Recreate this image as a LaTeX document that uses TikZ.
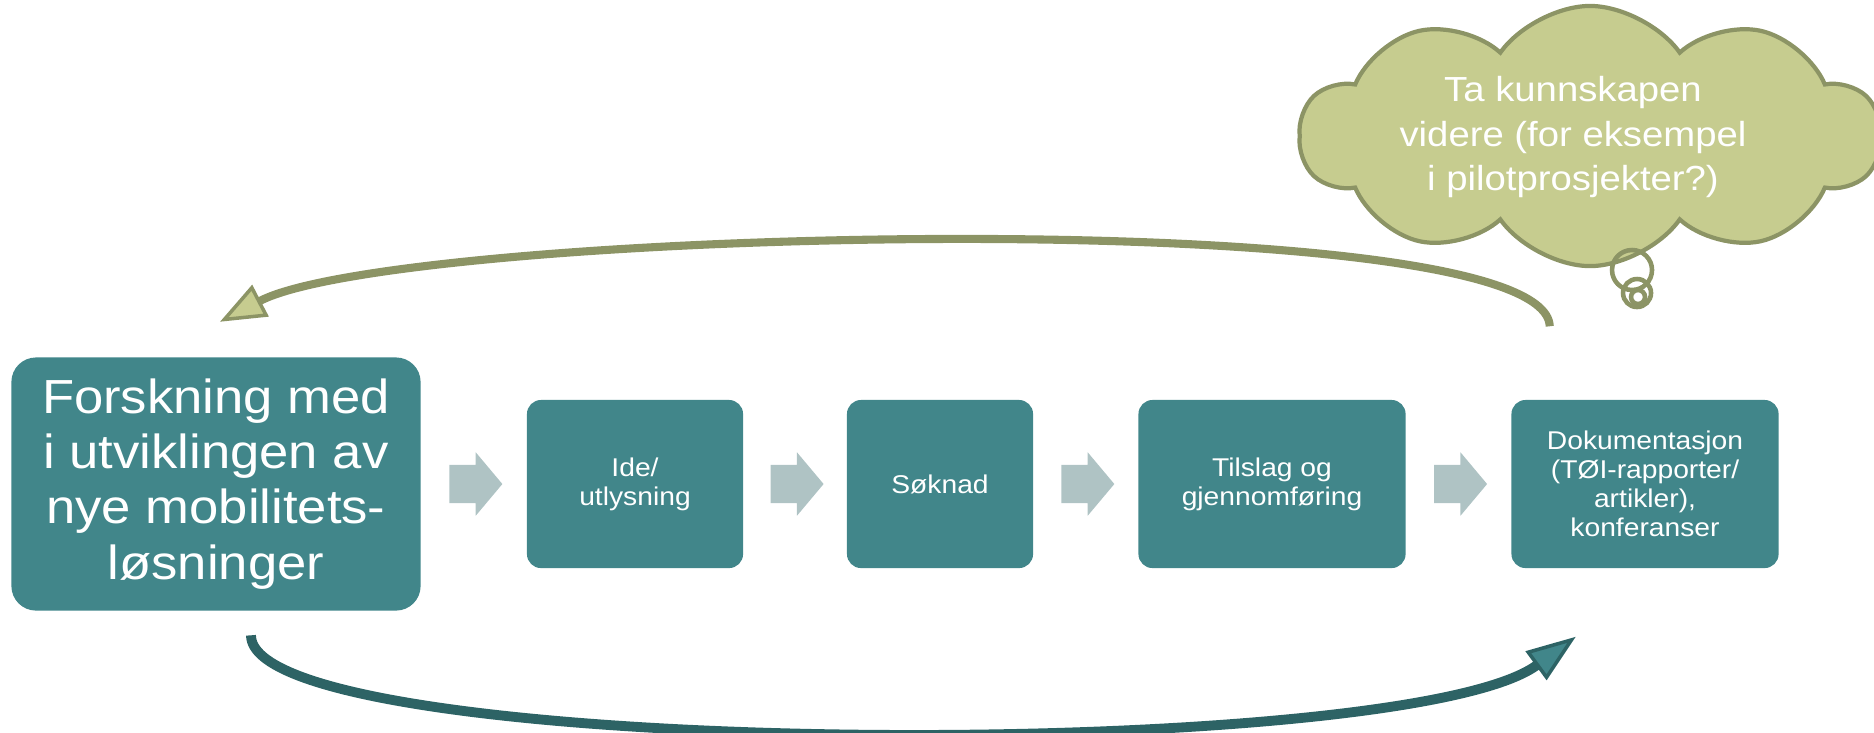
\documentclass[tikz,border=0pt]{standalone}
\usepackage{fontspec}
\setmainfont[FakeStretch=1.1]{Liberation Sans}
\usetikzlibrary{positioning,calc,shapes.symbols,shapes.arrows,arrows.meta}
\definecolor{boxteal}{HTML}{41868A}
\definecolor{chevgray}{HTML}{AFC3C4}
\definecolor{loopteal}{HTML}{2D6365}
\definecolor{cloudfill}{HTML}{C6CC8F}
\definecolor{cloudline}{HTML}{8C9465}

\begin{document}
\begin{tikzpicture}[x=0.01cm,y=-0.01cm,
  stage/.style={fill=boxteal,text=white,rounded corners=4pt,minimum height=1.68cm,
    align=center,inner sep=0pt,font=\fontsize{7.3}{8.3}\selectfont},
  chev/.style={single arrow,fill=chevgray,minimum height=0.53cm,inner xsep=0pt,
    inner ysep=0.185cm,single arrow head extend=0.125cm,single arrow tip angle=100,
    xshift=-0.06cm}]
\clip (0,0) rectangle (1874,732);
% the steps
\node[stage,minimum width=4.09cm,minimum height=2.53cm,rounded corners=7pt,
  font=\fontsize{13.6}{15.7}\selectfont] (main) at (216,484)
  {Forskning med\\i utviklingen av\\nye mobilitets-\\løsninger};
\node[stage,minimum width=2.16cm] (ide) at (635,484) {Ide/\\utlysning};
\node[stage,minimum width=1.86cm] (soknad) at (940,484) {Søknad};
\node[stage,minimum width=2.67cm] (tilslag) at (1272,484) {Tilslag og\\gjennomføring};
\node[stage,minimum width=2.67cm] (doc) at (1645,484)
  {Dokumentasjon\\(TØI-rapporter/\\artikler),\\konferanser};
% arrows between the steps
\node[chev] (c1) at ($(main.east)!0.5!(ide.west)$) {};
\node[chev] (c2) at ($(ide.east)!0.5!(soknad.west)$) {};
\node[chev] (c3) at ($(soknad.east)!0.5!(tilslag.west)$) {};
\node[chev] (c4) at ($(tilslag.east)!0.5!(doc.west)$) {};
% the two loops
\coordinate (backR) at ($(doc.north west)+(39,-73)$);
\coordinate (backL) at ($(main.north)+(4,-35)$);
\coordinate (fwdL) at ($(main.south)+(35,24)$);
\coordinate (fwdR) at ($(doc.south west)+(65,68)$);
\draw[cloudline,line width=2.3pt,
  -{Triangle[length=13pt,width=10pt,fill=cloudfill,line width=1pt]}]
  (backR) .. controls (1545,200) and (400,228) .. (backL);
\draw[loopteal,line width=2.8pt,
  -{Triangle[length=14pt,width=10pt,fill=boxteal,line width=1pt]}]
  (fwdL) .. controls (251,760) and (1400,765) .. (fwdR);
% thought cloud
\node[cloud,cloud puffs=10,cloud puff arc=110,aspect=2.3,draw=cloudline,fill=cloudfill,
  line width=1.2pt,minimum width=5.8cm,minimum height=2.6cm] (idea) at (1590,136) {};
\draw[cloudline,line width=1.3pt] (1632,270) circle[radius=20];
\draw[cloudline,line width=1.3pt] (1637,293) circle[radius=14];
\draw[cloudline,line width=1.3pt] (1638,297) circle[radius=7];
\node[text=white,align=center,font=\fontsize{9.9}{12.6}\selectfont] (ideatext) at (1573,137)
  {Ta kunnskapen\\videre (for eksempel\\i pilotprosjekter?)};
\end{tikzpicture}
\end{document}
